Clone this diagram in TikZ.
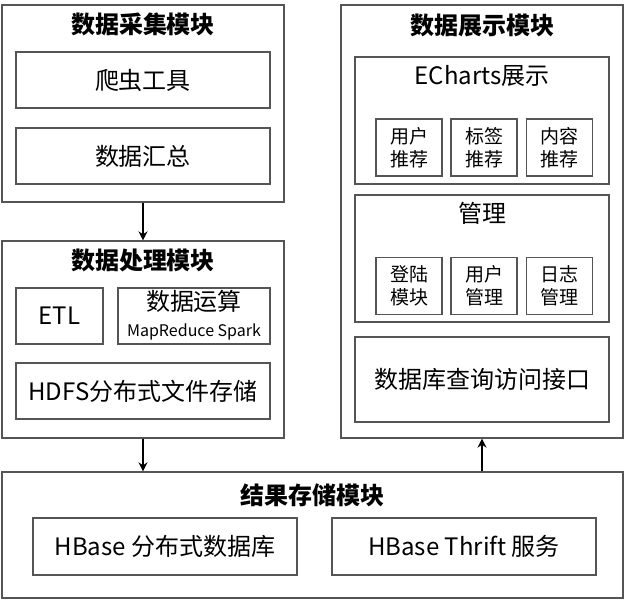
\documentclass[tikz,border=0pt]{standalone}
\usepackage{fontspec}
\setmainfont{Noto Sans CJK SC}
\usetikzlibrary{arrows.meta,positioning}
\definecolor{boxgray}{HTML}{555555}
\tikzset{
    modbox/.style={draw=boxgray,line width=1.3pt,inner sep=0pt},
    partbox/.style={draw=boxgray,line width=1.2pt,inner sep=0pt,align=center,
        font=\fontsize{24}{28}\selectfont},
    tinybox/.style={partbox,minimum width=66pt,minimum height=57pt,
        font=\fontsize{19}{23}\selectfont},
    modtitle/.style={font=\fontsize{24}{28}\selectfont\bfseries},
    flow/.style={line width=1.5pt,-{Stealth[length=9pt,width=9pt]}}
}
\begin{document}
\begin{tikzpicture}[x=1pt,y=-1pt]
        \useasboundingbox (0,0) rectangle (625,600);
        %% Data collection
        \node[modbox,minimum width=282pt,minimum height=197pt] (collect) at (143,103.5) {};
        \node[modtitle] (collectT) at (143,24) {数据采集模块};
        \node[partbox,minimum width=254pt,minimum height=56pt] (crawler) at (143,80) {爬虫工具};
        \node[partbox,minimum width=254pt,minimum height=56pt] (summary) at (143,156) {数据汇总};
        %% Data processing
        \node[modbox,minimum width=282pt,minimum height=197pt] (process) at (143,339.5) {};
        \node[modtitle] (processT) at (143,260) {数据处理模块};
        \node[partbox,minimum width=87pt,minimum height=56pt] (etl) at (59.5,316) {ETL};
        \node[partbox,minimum width=152pt,minimum height=56pt] (compute) at (194,316) {};
            \node[font=\fontsize{24}{28}\selectfont] (computeA) at (194,301) {数据运算};
            \node[font=\fontsize{16}{19}\selectfont] (computeB) at (194,332) {MapReduce Spark};
        \node[partbox,minimum width=254pt,minimum height=56pt] (hdfs) at (143,391) {HDFS分布式文件存储};
        %% Data display
        \node[modbox,minimum width=282pt,minimum height=433pt] (display) at (482,221.5) {};
        \node[modtitle] (displayT) at (482,25) {数据展示模块};
        \node[partbox,minimum width=254pt,minimum height=127pt] (echarts) at (482,120.5) {};
            \node[font=\fontsize{24}{28}\selectfont] (echartsT) at (482,76) {ECharts展示};
            \node[tinybox] (userRec) at (409,147.5) {用户\\推荐};
            \node[tinybox] (tagRec) at (484,147.5) {标签\\推荐};
            \node[tinybox] (contentRec) at (559.5,147.5) {内容\\推荐};
        \node[partbox,minimum width=254pt,minimum height=127pt] (manage) at (482,258.5) {};
            \node[font=\fontsize{24}{28}\selectfont] (manageT) at (482,213) {管理};
            \node[tinybox] (login) at (409,286) {登陆\\模块};
            \node[tinybox] (userMgr) at (484,286) {用户\\管理};
            \node[tinybox] (logMgr) at (559.5,286) {日志\\管理};
        \node[partbox,minimum width=254pt,minimum height=85pt] (dbapi) at (482,379.5) {数据库查询访问接口};
        %% Result storage
        \node[modbox,minimum width=621pt,minimum height=126pt] (storage) at (312.5,535) {};
        \node[modtitle] (storageT) at (312.5,495) {结果存储模块};
        \node[partbox,minimum width=264pt,minimum height=57pt] (hbase) at (165,546.5) {HBase 分布式数据库};
        \node[partbox,minimum width=264pt,minimum height=57pt] (thrift) at (464,546.5) {HBase Thrift 服务};
        %% Flow
        \draw[flow] (collect) -- (process);
        \draw[flow] (process) -- (process.south |- storage.north);
        \draw[flow] (display.south |- storage.north) -- (display);
\end{tikzpicture}
\end{document}
